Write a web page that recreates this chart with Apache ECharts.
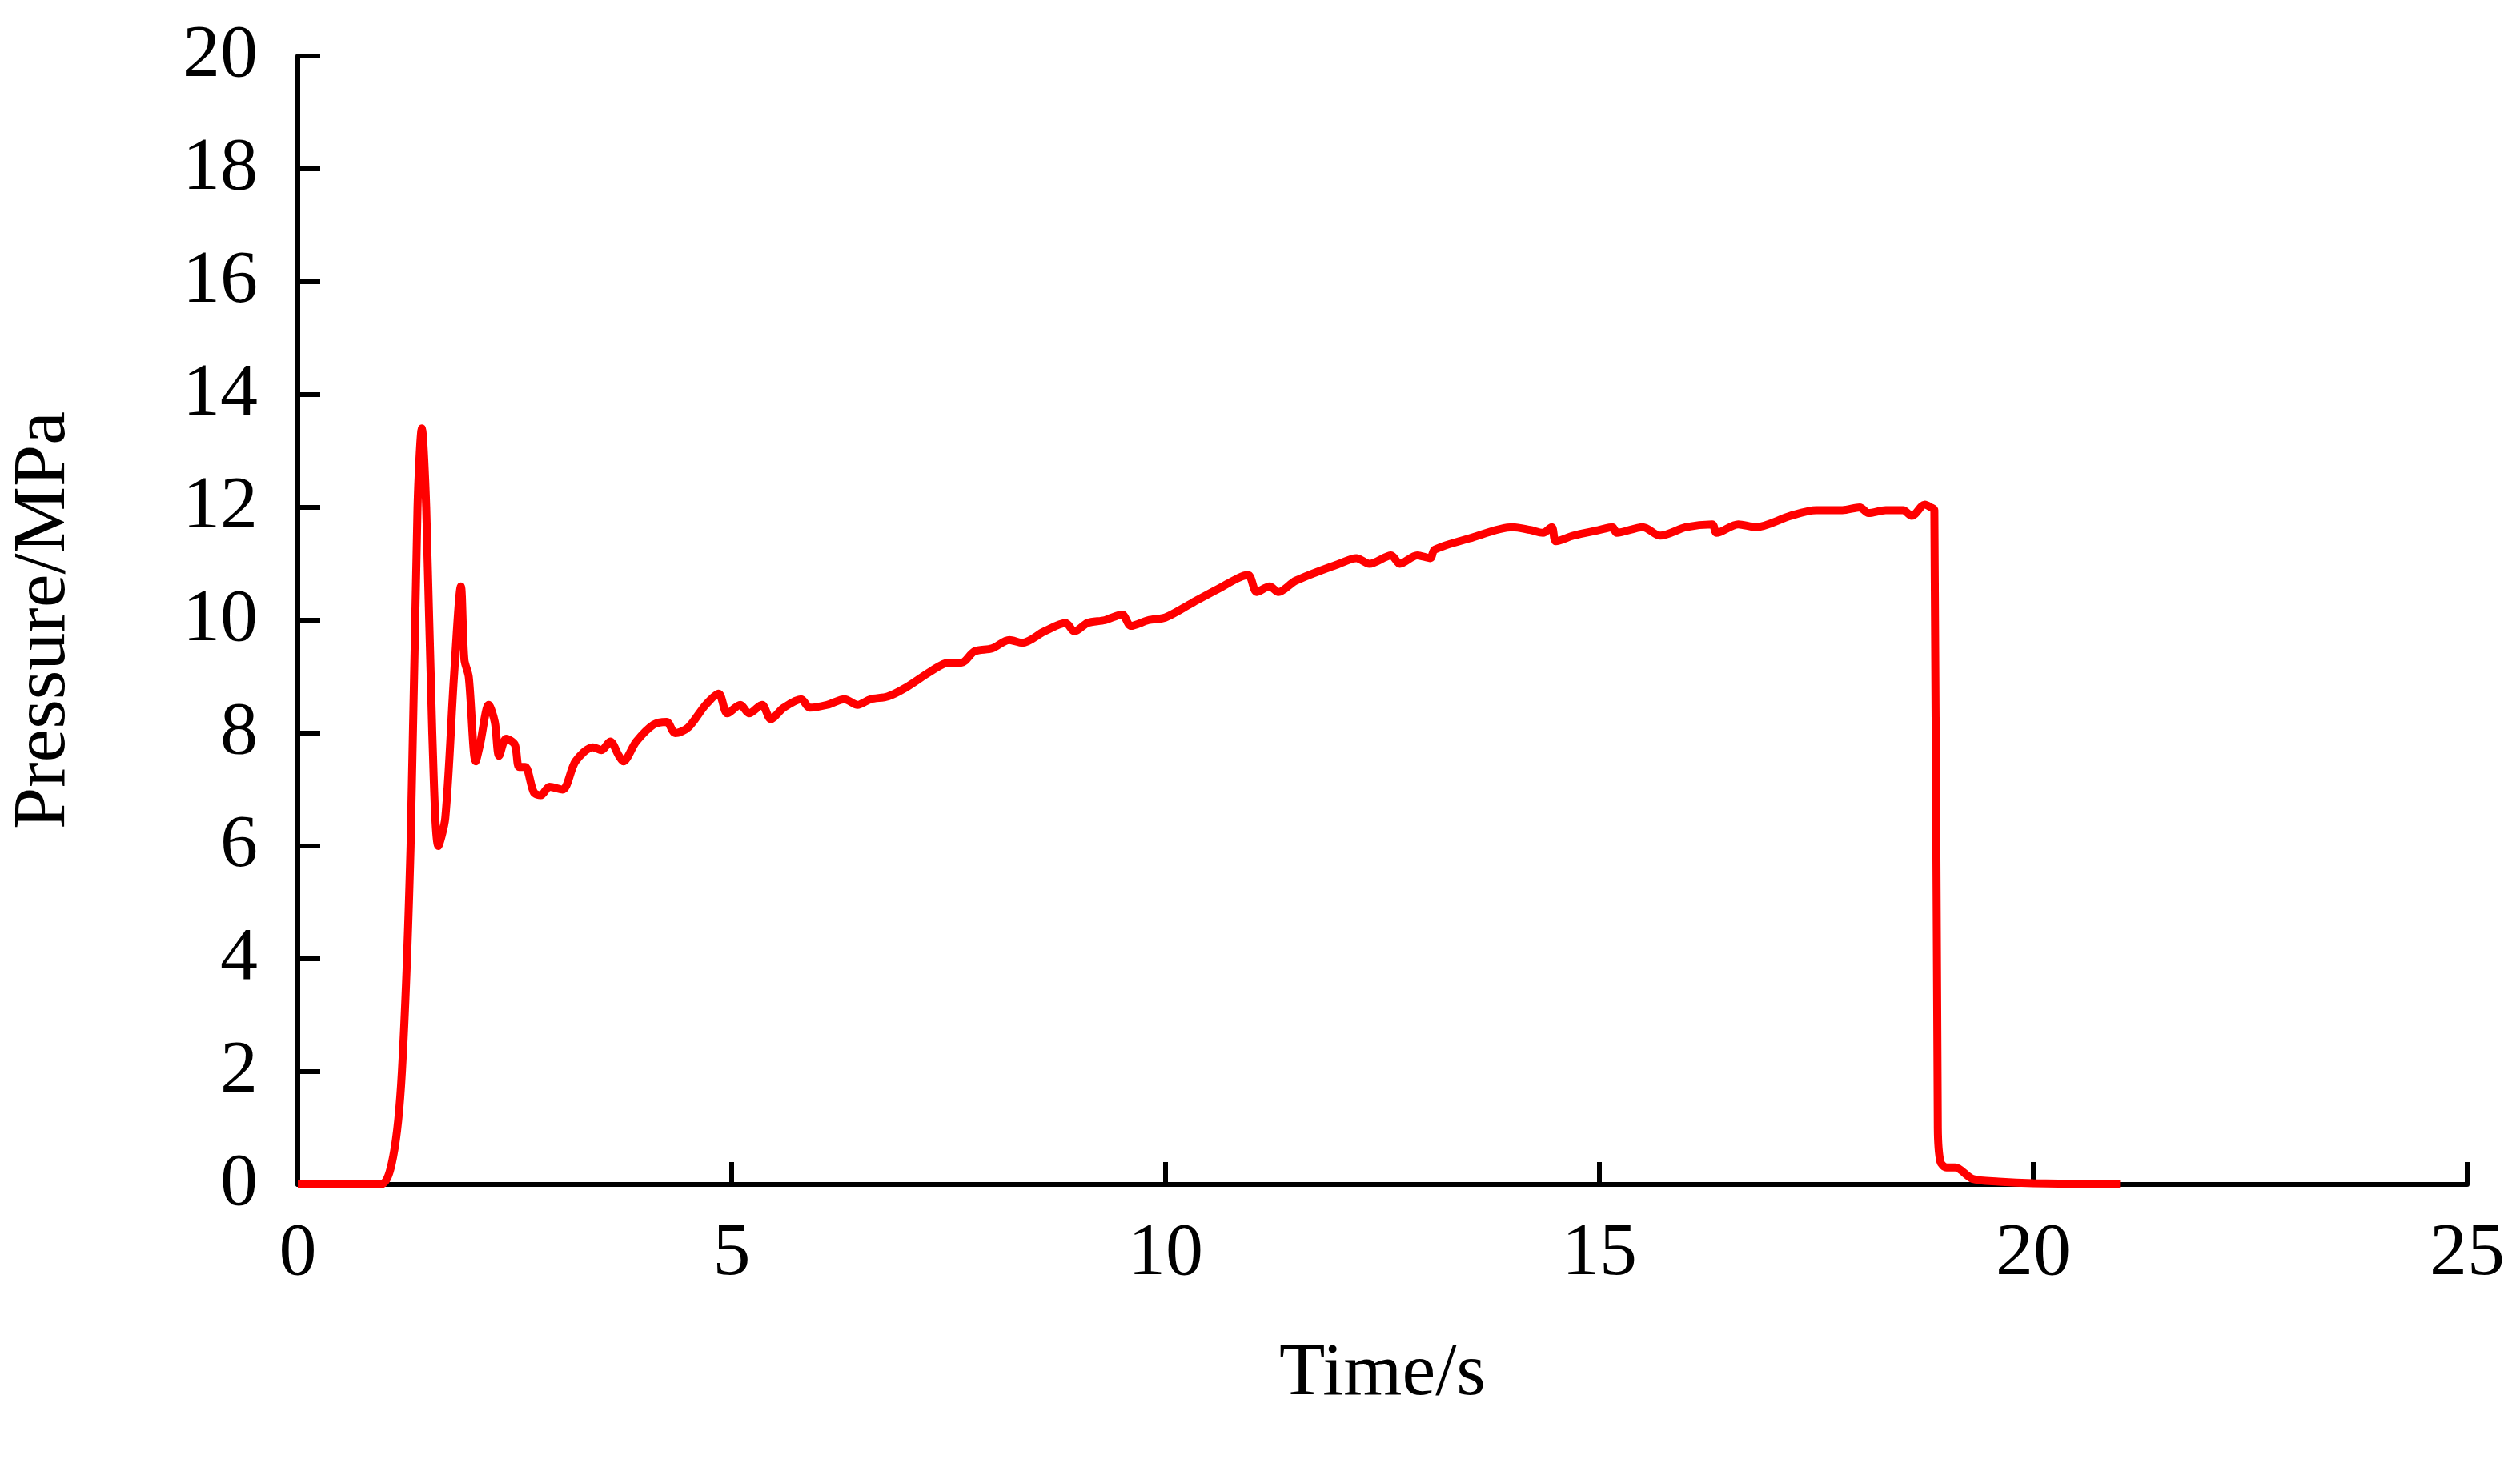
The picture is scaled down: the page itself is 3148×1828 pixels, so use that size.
<!DOCTYPE html>
<html>
<head>
<meta charset="utf-8">
<title>Pressure</title>
<script src="https://cdn.jsdelivr.net/npm/echarts@6/dist/echarts.min.js"></script>
<style>html,body{margin:0;padding:0;background:#fff}</style>
</head>
<body>
<div id="main" style="width:3148px;height:1828px;"></div>
<script type="text/javascript">
// time (s)
var timeArr = [0,0.95,1.1,1.2,1.3,1.38,1.43,1.48,1.55,1.62,1.7,1.8,1.88,1.92,1.97,2.05,2.1,2.2,2.27,2.32,2.4,2.5,2.55,2.62,2.72,2.8,2.9,3.05,3.2,3.4,3.5,3.6,3.7,3.75,3.9,4.1,4.25,4.35,4.5,4.7,4.85,4.95,5.1,5.2,5.35,5.45,5.6,5.8,5.9,6.1,6.3,6.45,6.6,6.8,7.0,7.3,7.5,7.65,7.8,8.0,8.2,8.35,8.6,8.85,8.95,9.1,9.3,9.5,9.6,9.8,10.0,10.3,10.6,10.95,11.05,11.2,11.3,11.5,12.0,12.2,12.35,12.6,12.7,12.9,13.05,13.1,13.5,14.0,14.2,14.35,14.45,14.5,14.7,15.0,15.15,15.2,15.5,15.7,16.0,16.3,16.35,16.6,16.8,17.2,17.5,17.8,18.0,18.1,18.3,18.5,18.6,18.75,18.82,18.86,18.9,18.93,19.0,19.1,19.3,19.6,20.0,21.0];
// pressure (MPa)
var pressureArr = [0,0,0.5,2,6,12,13.4,12,8,6,6.5,9,10.6,9.3,9,7.5,7.8,8.5,8.2,7.6,7.9,7.8,7.4,7.4,6.95,6.9,7.05,7.0,7.5,7.75,7.7,7.85,7.6,7.5,7.85,8.15,8.2,8.0,8.1,8.5,8.7,8.35,8.5,8.35,8.5,8.25,8.45,8.6,8.45,8.5,8.6,8.5,8.6,8.65,8.8,9.1,9.25,9.25,9.45,9.5,9.65,9.6,9.8,9.95,9.8,9.95,10.0,10.1,9.9,10.0,10.05,10.3,10.55,10.8,10.5,10.6,10.5,10.7,11.0,11.1,11.0,11.15,11.0,11.15,11.1,11.25,11.45,11.65,11.6,11.55,11.65,11.4,11.5,11.6,11.65,11.55,11.65,11.5,11.65,11.7,11.55,11.7,11.65,11.85,11.95,11.95,12.0,11.9,11.95,11.95,11.85,12.05,12.0,11.95,1,0.4,0.3,0.3,0.1,0.05,0.02,0];

var data = [];
for (var i = 0; i < timeArr.length; i++) {
    data.push([timeArr[i], pressureArr[i]]);
}

var myChart = echarts.init(document.getElementById('main'));
var font = 'Liberation Serif';
var option = {
    animation: false,
    backgroundColor: '#fff',
    grid: { left: 367, right: 66, top: 70, bottom: 348 },
    xAxis: {
        type: 'value', min: 0, max: 25, interval: 5,
        name: 'Time/s', nameLocation: 'middle', nameGap: 190,
        nameTextStyle: { fontFamily: font, fontSize: 94, color: '#000' },
        axisLine: { lineStyle: { color: '#000', width: 6 } },
        axisTick: { inside: true, length: 28, lineStyle: { color: '#000', width: 6 } },
        axisLabel: { fontFamily: font, fontSize: 94, color: '#000', margin: 40 },
        splitLine: { show: false }
    },
    yAxis: {
        type: 'value', min: 0, max: 20, interval: 2,
        name: 'Pressure/MPa', nameLocation: 'middle', nameGap: 270,
        nameTextStyle: { fontFamily: font, fontSize: 94, color: '#000' },
        axisLine: { show: true, lineStyle: { color: '#000', width: 6 } },
        axisTick: { show: true, inside: true, length: 28, lineStyle: { color: '#000', width: 6 } },
        axisLabel: { fontFamily: font, fontSize: 94, color: '#000', margin: 50 },
        splitLine: { show: false }
    },
    series: [{
        type: 'line',
        data: data,
        showSymbol: false,
        smooth: 0.3,
        lineStyle: { color: '#ff0000', width: 10 }
    }]
};
myChart.setOption(option);
</script>
</body>
</html>
